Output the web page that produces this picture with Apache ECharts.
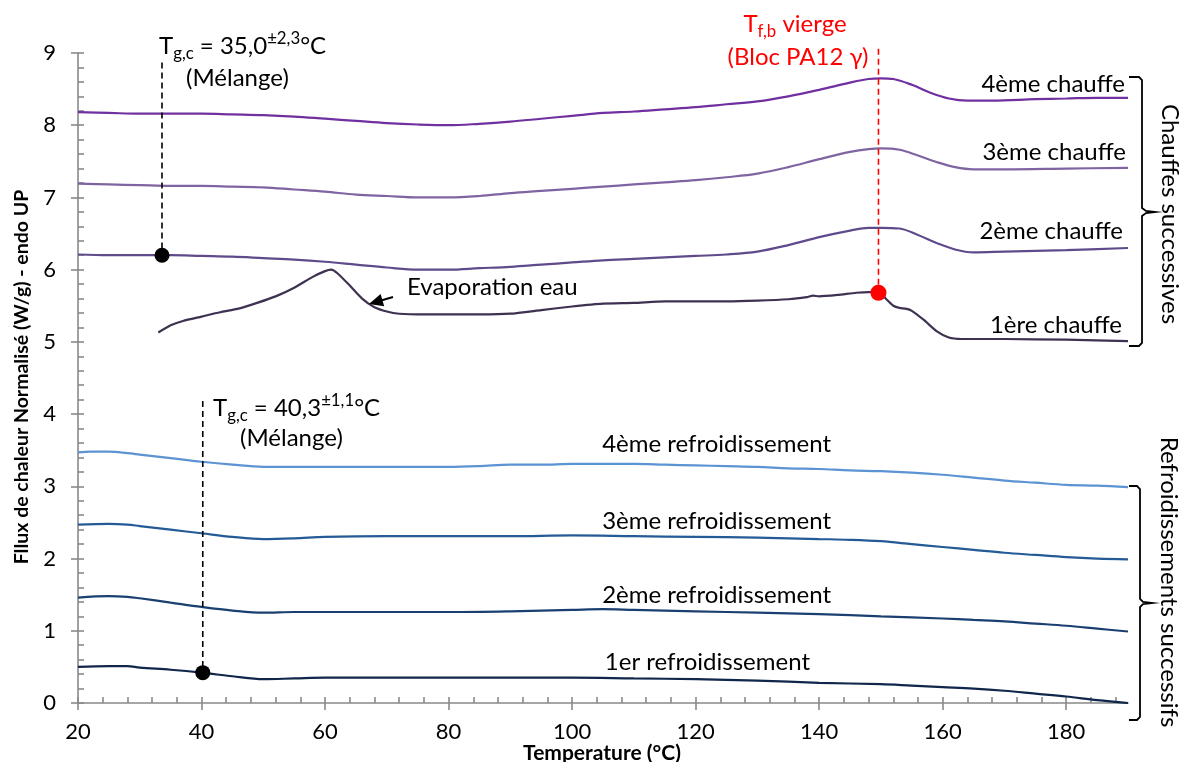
<!DOCTYPE html>
<html><head><meta charset="utf-8">
<script src="https://cdn.jsdelivr.net/npm/echarts@6/dist/echarts.min.js"></script>
<style>html,body{margin:0;padding:0;background:#fff}#c{width:1182px;height:762px}</style>
</head><body><div id="c"></div>
<script>
// ---- data (Temperature °C, heat flow W/g) ----
const heat4 = [[20,8.18],[25,8.17],[30,8.16],[35,8.16],[40,8.16],[45,8.15],[50,8.14],[55,8.12],[60,8.09],[65,8.06],[70,8.03],[75,8.01],[80,8.00],[85,8.02],[90,8.05],[95,8.09],[100,8.13],[105,8.17],[110,8.19],[115,8.22],[120,8.25],[125,8.29],[130,8.33],[135,8.40],[140,8.49],[145,8.59],[148,8.64],[150,8.65],[152,8.64],[155,8.56],[158,8.45],[161,8.37],[164,8.34],[168,8.34],[175,8.36],[180,8.37],[185,8.38],[190,8.38]];
const heat3 = [[20,7.19],[25,7.18],[30,7.17],[35,7.16],[40,7.16],[45,7.15],[50,7.14],[55,7.11],[60,7.08],[65,7.04],[70,7.02],[75,7.00],[80,7.00],[85,7.02],[90,7.06],[95,7.09],[100,7.12],[105,7.15],[110,7.18],[115,7.21],[120,7.24],[125,7.28],[130,7.33],[135,7.42],[140,7.53],[145,7.63],[148,7.67],[150,7.68],[153,7.66],[156,7.58],[159,7.49],[162,7.42],[165,7.39],[170,7.39],[180,7.40],[190,7.41]];
const heat2 = [[20,6.21],[25,6.20],[30,6.20],[35,6.20],[40,6.19],[45,6.18],[50,6.16],[55,6.14],[60,6.11],[65,6.07],[70,6.03],[75,6.00],[80,6.00],[85,6.02],[90,6.04],[95,6.07],[100,6.10],[105,6.13],[110,6.15],[115,6.17],[120,6.19],[125,6.21],[130,6.25],[135,6.34],[140,6.45],[145,6.54],[148,6.58],[150,6.58],[153,6.57],[156,6.48],[159,6.37],[162,6.28],[165,6.24],[170,6.25],[180,6.27],[190,6.30]];
const heat1 = [[33,5.13],[35,5.23],[37,5.29],[40,5.35],[43,5.41],[46,5.46],[49,5.54],[52,5.63],[55,5.75],[58,5.90],[60,5.98],[61,6.00],[62,5.95],[64,5.78],[66,5.60],[68,5.48],[70,5.42],[72,5.39],[76,5.38],[80,5.38],[85,5.38],[90,5.39],[95,5.44],[100,5.49],[105,5.53],[110,5.54],[115,5.56],[120,5.56],[125,5.56],[130,5.57],[135,5.59],[138,5.62],[139,5.64],[140,5.63],[143,5.65],[146,5.68],[148,5.69],[149.6,5.69],[151,5.58],[152,5.50],[153,5.47],[154,5.46],[155,5.43],[157,5.30],[159,5.15],[161,5.06],[163,5.04],[170,5.04],[180,5.03],[190,5.01]];
const cool4 = [[20,3.47],[22,3.48],[25,3.48],[28,3.46],[30,3.44],[35,3.39],[40,3.34],[45,3.30],[50,3.27],[55,3.27],[60,3.27],[65,3.27],[70,3.27],[75,3.27],[80,3.27],[85,3.28],[90,3.30],[95,3.30],[100,3.31],[105,3.31],[110,3.31],[115,3.30],[120,3.29],[125,3.28],[130,3.27],[135,3.25],[140,3.24],[145,3.22],[150,3.21],[155,3.19],[160,3.16],[165,3.12],[170,3.08],[175,3.05],[180,3.02],[185,3.01],[190,2.99]];
const cool3 = [[20,2.47],[25,2.48],[28,2.47],[30,2.45],[35,2.40],[40,2.35],[45,2.30],[50,2.27],[55,2.28],[60,2.30],[70,2.31],[80,2.31],[90,2.31],[100,2.32],[110,2.31],[120,2.30],[130,2.29],[140,2.27],[145,2.26],[150,2.24],[155,2.20],[160,2.16],[165,2.12],[170,2.08],[175,2.05],[180,2.02],[185,2.00],[190,1.99]];
const cool2 = [[20,1.46],[25,1.48],[28,1.47],[30,1.45],[35,1.39],[40,1.33],[45,1.28],[50,1.25],[55,1.26],[60,1.26],[70,1.26],[80,1.26],[90,1.27],[100,1.29],[105,1.30],[110,1.29],[120,1.27],[130,1.25],[140,1.23],[150,1.20],[160,1.17],[165,1.15],[170,1.13],[175,1.10],[180,1.07],[185,1.03],[190,0.99]];
const cool1 = [[20,0.50],[25,0.51],[28,0.51],[30,0.49],[35,0.46],[40,0.42],[45,0.37],[50,0.33],[55,0.34],[60,0.35],[70,0.35],[80,0.35],[90,0.35],[100,0.35],[110,0.34],[120,0.33],[130,0.31],[140,0.28],[150,0.26],[155,0.24],[160,0.22],[165,0.20],[170,0.17],[175,0.13],[180,0.09],[185,0.04],[190,0.00]];
// annotation points
const tgHeatLine = [[33.6,8.87],[33.6,6.20]];
const tgHeatPoint = [[33.6,6.20]];
const tgCoolLine = [[40.2,4.18],[40.2,0.42]];
const tgCoolPoint = [[40.2,0.42]];
const tfLine = [[149.6,9.06],[149.6,5.68]];
const tfPoint = [[149.6,5.68]];
// ticks
const xTickLabels = [20,40,60,80,100,120,140,160,180];
const yTickLabels = [0,1,2,3,4,5,6,7,8,9];

const minorX = []; for (let t = 20; t <= 188; t += 4) minorX.push(t);
const minorY = []; for (let i = 0; i <= 45; i++) minorY.push(+(i * 0.2).toFixed(1));

const F = 'Lato, "Open Sans", sans-serif';
const GRAY = '#898989';
const LBL = 24;
const chart = echarts.init(document.getElementById('c'), null, {renderer: 'canvas'});

function lineS(name, data, color, extra) {
  return Object.assign({
    name, type: 'line', data, xAxisIndex: 0, yAxisIndex: 0,
    showSymbol: false, symbol: 'none', smooth: 0.35,
    lineStyle: {color, width: 2.2}, itemStyle: {color}, z: 3, silent: true, animation: false
  }, extra || {});
}
function dashS(data, color) {
  return {type: 'line', data, xAxisIndex: 0, yAxisIndex: 0, showSymbol: false, symbol: 'none',
    lineStyle: {color, width: 1.6, type: [6, 4]}, clip: false, z: 4, silent: true, animation: false};
}
function dotS(data, color, size) {
  return {type: 'scatter', data, xAxisIndex: 0, yAxisIndex: 0, symbolSize: size,
    itemStyle: {color, opacity: 1}, z: 6, silent: true, animation: false};
}
function txt(text, x, y, opt) {
  opt = opt || {};
  return {type: 'text', x, y, rotation: opt.rotation || 0, z: 10, silent: true,
    style: {text, fill: opt.color || '#000', fontSize: opt.size || LBL, fontFamily: F,
      fontWeight: opt.weight || 'normal', textAlign: opt.align || 'left', textVerticalAlign: 'middle',
      rich: opt.rich}};
}
function richTg(size, color) {
  return {
    t: {fontSize: size, fontFamily: F, fill: color, lineHeight: 32, verticalAlign: 'middle'},
    sb: {fontSize: size * 0.7, fontFamily: F, fill: color, lineHeight: 15, verticalAlign: 'bottom'},
    sp: {fontSize: size * 0.7, fontFamily: F, fill: color, lineHeight: 17, verticalAlign: 'top'}
  };
}

const option = {
  backgroundColor: '#fff',
  animation: false,
  grid: {left: 78, right: 54, top: 53, bottom: 59, containLabel: false},
  xAxis: [
    {type: 'value', min: 20, max: 190, interval: 20, position: 'bottom',
      axisLine: {show: true, onZero: false, lineStyle: {color: GRAY, width: 1.6}},
      axisTick: {show: true, inside: false, length: 7, customValues: xTickLabels, lineStyle: {color: GRAY, width: 1.6}},
      axisLabel: {customValues: xTickLabels, fontSize: 22, color: '#000', fontFamily: F, margin: 18},
      splitLine: {show: false}},
    {type: 'value', min: 20, max: 190, interval: 20, position: 'bottom',
      axisLine: {show: false, onZero: false},
      axisTick: {show: true, inside: true, length: 6, customValues: minorX, lineStyle: {color: GRAY, width: 1.6}},
      axisLabel: {show: false}, splitLine: {show: false}}
  ],
  yAxis: [
    {type: 'value', min: 0, max: 9, interval: 1, position: 'left',
      axisLine: {show: true, onZero: false, lineStyle: {color: GRAY, width: 1.6}},
      axisTick: {show: true, inside: false, length: 7, customValues: yTickLabels, lineStyle: {color: GRAY, width: 1.6}},
      axisLabel: {customValues: yTickLabels, fontSize: 22, color: '#000', fontFamily: F, margin: 22},
      splitLine: {show: false}},
    {type: 'value', min: 0, max: 9, interval: 1, position: 'left',
      axisLine: {show: false, onZero: false},
      axisTick: {show: true, inside: true, length: 6, customValues: minorY, lineStyle: {color: GRAY, width: 1.6}},
      axisLabel: {show: false}, splitLine: {show: false}}
  ],
  series: [
    lineS('4ème chauffe', heat4, '#7030A0'),
    lineS('3ème chauffe', heat3, '#8064A2'),
    lineS('2ème chauffe', heat2, '#5F4A8B'),
    lineS('1ère chauffe', heat1, '#3F3151', {smooth: 0.2}),
    lineS('4ème refroidissement', cool4, '#5B93D3'),
    lineS('3ème refroidissement', cool3, '#245A96'),
    lineS('2ème refroidissement', cool2, '#1B3F70'),
    lineS('1er refroidissement', cool1, '#10264A'),
    dashS(tgHeatLine, '#000'),
    dashS(tgCoolLine, '#000'),
    dashS(tfLine, '#FF0000'),
    dotS(tgHeatPoint, '#000', 15),
    dotS(tgCoolPoint, '#000', 15),
    dotS(tfPoint, '#FF0000', 16)
  ],
  graphic: [
    // axis titles
    txt('Fllux de chaleur Normalisé (W/g) - endo UP', 22, 377, {rotation: Math.PI / 2, align: 'center', weight: 'bold', size: 19.5}),
    txt('Temperature (°C)', 602, 753, {align: 'center', weight: 'bold', size: 21}),
    // Tg annotations
    txt('{t|T}{sb|g,c}{t| = 35,0}{sp|±2,3}{t|°C}', 159, 46, {rich: richTg(LBL, '#000')}),
    txt('(Mélange)', 186, 78),
    txt('{t|T}{sb|g,c}{t| = 40,3}{sp|±1,1}{t|°C}', 213, 408, {rich: richTg(LBL, '#000')}),
    txt('(Mélange)', 240, 438),
    // Tf annotation (red)
    txt('{t|T}{sb|f,b}{t| vierge}', 795, 24, {align: 'center', color: '#FF0000', rich: richTg(LBL, '#FF0000')}),
    txt('(Bloc PA12 γ)', 798, 57, {align: 'center', color: '#FF0000'}),
    // curve labels
    txt('4ème chauffe', 1125, 84, {align: 'right'}),
    txt('3ème chauffe', 1126, 152, {align: 'right'}),
    txt('2ème chauffe', 1123, 231, {align: 'right'}),
    txt('1ère chauffe', 1122, 325, {align: 'right'}),
    txt('4ème refroidissement', 831, 444, {align: 'right'}),
    txt('3ème refroidissement', 831, 521, {align: 'right'}),
    txt('2ème refroidissement', 831, 595, {align: 'right'}),
    txt('1er refroidissement', 810, 662, {align: 'right'}),
    txt('Evaporation eau', 407, 287),
    // arrow
    {type: 'line', shape: {x1: 393, y1: 297, x2: 381, y2: 300.5}, style: {stroke: '#000', lineWidth: 2}, z: 10, silent: true},
    {type: 'polygon', shape: {points: [[369, 304], [384.2, 306.3], [380.6, 293.9]]}, style: {fill: '#000'}, z: 10, silent: true},
    // braces
    {type: 'polyline', shape: {points: [[1129,77],[1139,77],[1142,80],[1142,208],[1146,211],[1155,212],[1146,213],[1142,216],[1142,343],[1139,346],[1129,346]]},
      style: {stroke: '#000', lineWidth: 1.8, fill: null}, z: 10, silent: true},
    {type: 'polyline', shape: {points: [[1129,486],[1137,486],[1140,489],[1140,599],[1143,602],[1152,603],[1143,604],[1140,607],[1140,717],[1137,720],[1129,720]]},
      style: {stroke: '#000', lineWidth: 1.8, fill: null}, z: 10, silent: true},
    txt('Chauffes successives', 1170, 214, {rotation: -Math.PI / 2, align: 'center'}),
    txt('Refroidissements successifs', 1169, 582, {rotation: -Math.PI / 2, align: 'center'})
  ]
};
chart.setOption(option);
</script></body></html>
